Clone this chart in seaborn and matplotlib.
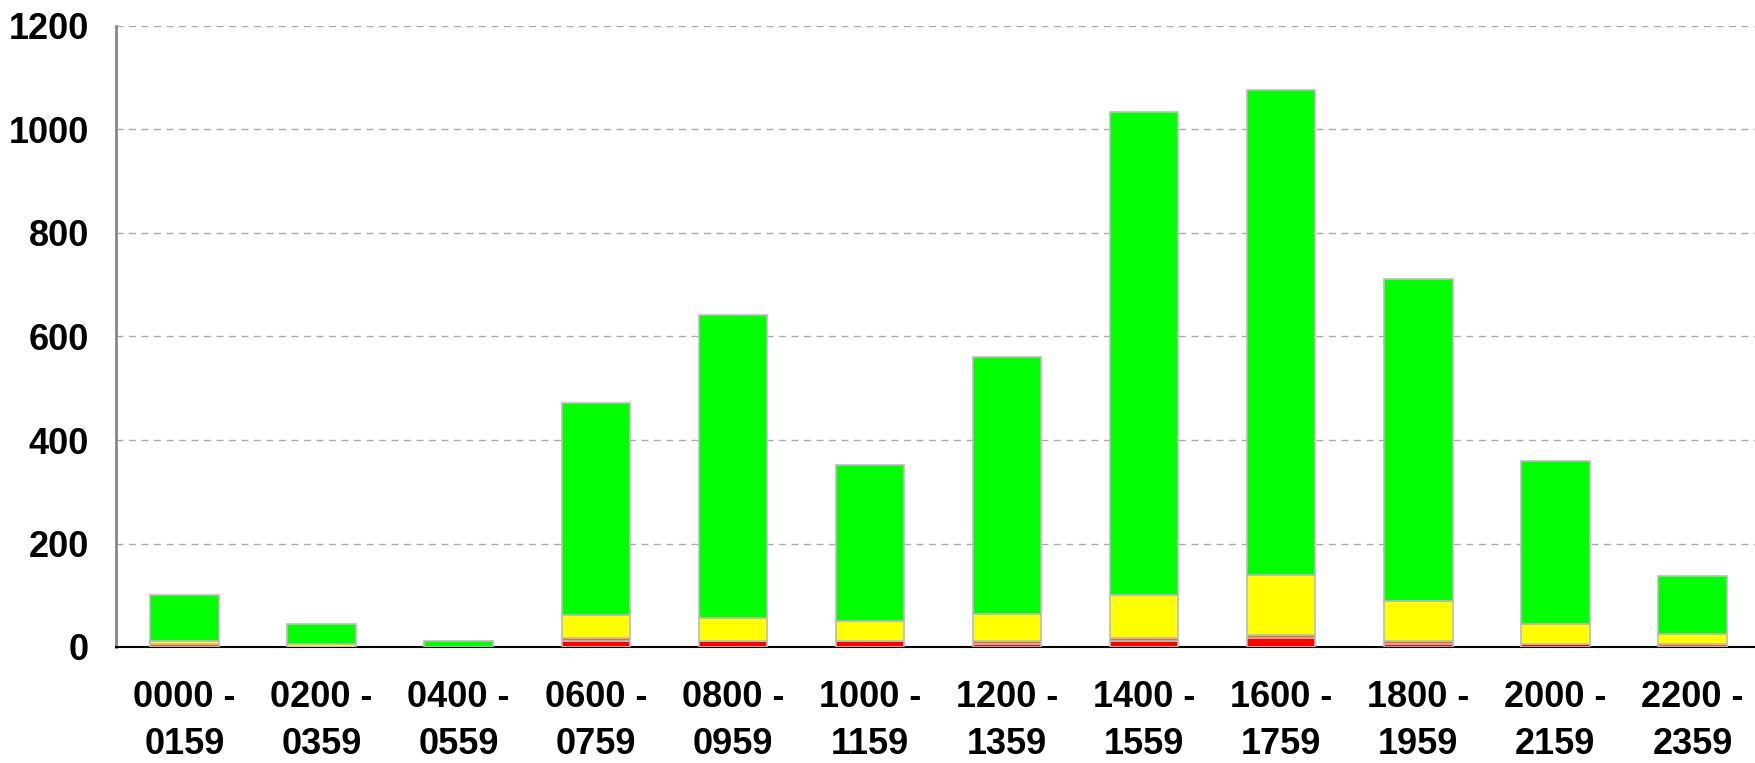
import numpy as np
import pandas as pd
import matplotlib
matplotlib.use("Agg")
import matplotlib.pyplot as plt
import seaborn as sns

# time slots
slots = ['0000 -\n0159', '0200 -\n0359', '0400 -\n0559', '0600 -\n0759',
         '0800 -\n0959', '1000 -\n1159', '1200 -\n1359', '1400 -\n1559',
         '1600 -\n1759', '1800 -\n1959', '2000 -\n2159', '2200 -\n2359']

# stacked series, bottom to top
red = [0, 0, 0, 12, 12, 12, 5, 12, 18, 5, 5, 0]
orange = [5, 0, 0, 5, 0, 0, 7, 6, 6, 7, 0, 5]
yellow = [6, 5, 0, 45, 44, 38, 51, 82, 115, 76, 40, 20]
green = [89, 39, 12, 410, 586, 302, 498, 933, 938, 623, 314, 112]

sns.set_style("white")
plt.rcParams['font.family'] = ['Liberation Sans', 'DejaVu Sans']

fig = plt.figure(figsize=(17.55, 7.63), dpi=100)
# plot area runs a little past the right edge, like the original
ax = fig.add_axes([116 / 1755, 116 / 763, 1645 / 1755, 621 / 763])

series = [(red, '#FF0000'), (orange, '#FF6600'), (yellow, '#FFFF00'), (green, '#00FF00')]
bottom = np.zeros(len(slots))
for vals, col in series:
    df = pd.DataFrame({'slot': slots, 'val': vals})
    sns.barplot(data=df, x='slot', y='val', color=col, saturation=1, bottom=bottom,
                width=0.5, edgecolor='#BBBBBB', linewidth=1.2, ax=ax, zorder=3)
    bottom = bottom + np.array(vals)

ax.set_xlim(-0.5, len(slots) - 0.5)
ax.set_ylim(0, 1200)
ax.set_yticks(range(0, 1201, 200))
ax.yaxis.grid(True, linestyle=(0, (5, 4)), color='#AAAAAA', linewidth=1, zorder=0)
ax.set_axisbelow(True)

ax.set_xlabel('')
ax.set_ylabel('')

# tick marks between categories
ax.set_xticks(np.arange(-0.5, len(slots), 1), minor=True)
ax.tick_params(axis='x', which='major', length=0, pad=24, labelcolor='black')
ax.tick_params(axis='x', which='minor', length=7, width=1.2, color='black', direction='out')
ax.tick_params(axis='y', length=6.5, width=1.2, color='black', direction='out', pad=13,
               labelcolor='black')

for lab in ax.get_xticklabels():
    lab.set_fontsize(26)
    lab.set_fontweight('bold')
    lab.set_linespacing(1.42)
for lab in ax.get_yticklabels():
    lab.set_fontsize(26)
    lab.set_fontweight('bold')

for s in ['top', 'right']:
    ax.spines[s].set_visible(False)
ax.spines['left'].set_color('#888888')
ax.spines['left'].set_linewidth(2)
ax.spines['bottom'].set_color('black')
ax.spines['bottom'].set_linewidth(1.5)

plt.savefig('out.png', dpi=100)
